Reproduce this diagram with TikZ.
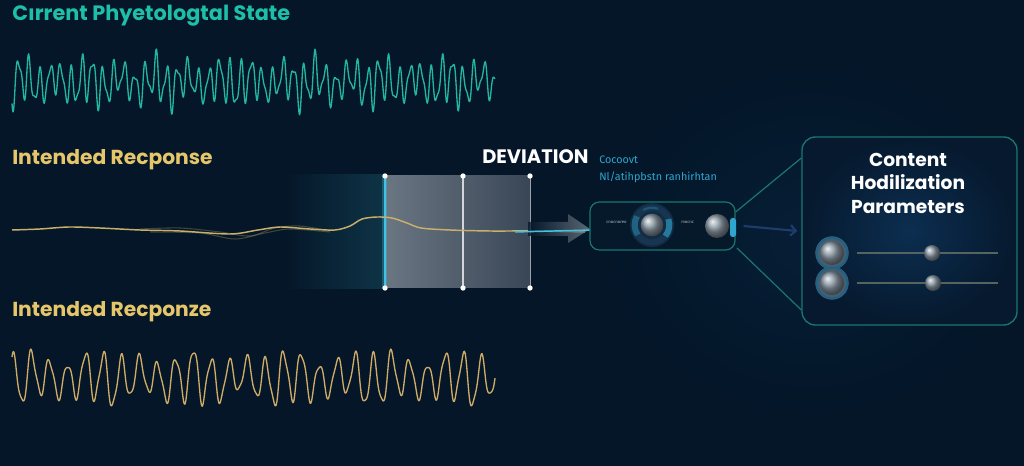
\documentclass[tikz,border=0pt]{standalone}
\usepackage{fontspec}
\setmainfont{Fira Sans}
\newfontfamily\popfont{Poppins}
\usetikzlibrary{arrows.meta,calc}
\definecolor{bg}{HTML}{041628}
\definecolor{tealc}{HTML}{1EBFA8}
\definecolor{tealw}{HTML}{22B5A0}
\definecolor{yelc}{HTML}{E6C66A}
\definecolor{yelw}{HTML}{CFAC66}
\definecolor{midl}{HTML}{C8B06C}
\definecolor{cyanc}{HTML}{3EC4E6}
\definecolor{smallc}{HTML}{2EA6CE}
\definecolor{bordc}{HTML}{1C7670}
\definecolor{panelin}{HTML}{0C2E50}
\definecolor{panelout}{HTML}{06192E}
\definecolor{boxfill}{HTML}{05192B}
\definecolor{glowc}{HTML}{0E3446}
\definecolor{rectl}{HTML}{6A7682}
\definecolor{rectr}{HTML}{394656}
\definecolor{ballc}{HTML}{8C9AA6}
\definecolor{ringc}{HTML}{173550}
\definecolor{trackc}{HTML}{56645F}
\definecolor{darkarrow}{HTML}{1C3C6C}
\begin{document}
\begin{tikzpicture}[x=0.75pt,y=-0.75pt,
  lbl/.style={anchor=west, inner sep=0pt, font=\popfont\bfseries\fontsize{15.2}{17}\selectfont},
  tealwave/.style={draw=tealw, line width=1pt, line join=round},
  yelwave/.style={draw=yelw, line width=1pt, line join=round},
  midline/.style={draw=midl, line width=1.1pt},
  ghost/.style={draw=midl, line width=0.8pt, opacity=0.3},
  dot/.style={fill=white, draw=none},
  conn/.style={draw=bordc, line width=0.9pt},
  ball/.style={shading=ball, ball color=ballc},
  smalltxt/.style={anchor=west, inner sep=0pt, text=smallc, font=\fontsize{8.1}{9}\selectfont},
  tinytxt/.style={anchor=west, inner sep=0pt, text=ballc!70, font=\fontsize{3.2}{4}\selectfont},
  paneltxt/.style={align=center, text=white, inner sep=0pt, font=\popfont\bfseries\fontsize{14}{17.6}\selectfont}
]
\useasboundingbox (0,0) rectangle (1024,466);
\fill[bg] (0,0) rectangle (1024,466);
\shade[inner color=panelin!60!bg, outer color=bg, opacity=0.6] (600,60) rectangle (1024,420);

% ---- top label and wave
\node[lbl, text=tealc, font=\popfont\bfseries\fontsize{15.6}{17}\selectfont] (title) at (12,16) {Cırrent Phyetologtal State};
\draw[tealwave] plot[domain=12:495, samples=900]
  (\x, {82 + (1+0.2*sin(5*\x))*(17*sin(34*mod(\x,10.588235)) + 7*sin(59*mod(\x,6.101695)+40)) + 6*sin(11*\x+20)});

% ---- middle label
\node[lbl, text=yelc] (mid) at (12,160) {Intended Recponse};

% glow and deviation rectangle
\shade[left color=bg, right color=glowc] (282,175) rectangle (385,289);
\node[draw=none, left color=rectl, right color=rectr, minimum width=108.75pt, minimum height=84pt, inner sep=0pt] (dev) at (457.5,232) {};
\draw[white!70!rectl, line width=0.8pt] (463,176) -- (463,288);
\draw[white!50!rectr, line width=0.5pt] (dev.north east) -- (dev.south east);
\draw[cyanc, line width=3.5pt, opacity=0.3] (dev.north west) -- (dev.south west);
\draw[cyanc, line width=1.4pt] (dev.north west) -- (dev.south west);
\foreach \px in {385,463,530} {
  \fill[dot] (\px,176) circle (2pt);
  \fill[dot] (\px,288) circle (2pt);
}

% middle wave line
\draw[ghost] plot[smooth] coordinates {(140,229) (180,228) (220,232) (250,236) (275,228) (300,226) (330,231)};
\draw[ghost] plot[smooth] coordinates {(150,232) (200,233) (235,239) (265,233) (290,229) (330,232)};
\draw[midline] plot[smooth] coordinates {(12,230) (40,229) (69,227) (100,228) (140,230) (180,231) (230,234) (258,230) (280,227) (310,229) (335,230) (350,226) (362,219) (377,217) (392,218) (407,223) (421,228) (450,230) (490,231) (530,231) (585,232)};

% arrow into the box
\shade[left color=bg, right color=rectl!90, opacity=0.75]
  (528,222) -- (568,222) -- (568,214) -- (590,229) -- (568,243) -- (568,236) -- (528,236) -- cycle;
\draw[cyanc, line width=1.1pt] (515,232) -- (592,230);

% DEVIATION and small text
\node[anchor=west, inner sep=0pt, text=white, font=\popfont\bfseries\fontsize{14.6}{16}\selectfont] (devlbl) at (482,157) {DEVIATION};
\node[smalltxt] (sm1) at (599,160) {Cocoovt};
\node[smalltxt] (sm2) at (599,177) {Nl/atihpbstn ranhirhtan};

% box
\node[draw=bordc, line width=0.9pt, fill=boxfill, rounded corners=7pt, minimum width=108.75pt, minimum height=36pt, inner sep=0pt] (box) at (662.5,226) {};
\node[tinytxt] (t1) at (606,222) {cnocnoreo};
\node[tinytxt] (t2) at (681,222) {mocnc};
\fill[ringc!70!bg] (652,225) circle (16.5pt);
\draw[ringc, line width=4.5pt] (652,225) circle (13pt);
\draw[smallc!60!ringc, line width=4.5pt] ($(652,225)+(-40:13pt)$) arc[start angle=-40, end angle=20, radius=13pt];
\draw[smallc!40!ringc, line width=4.5pt] ($(652,225)+(150:13pt)$) arc[start angle=150, end angle=215, radius=13pt];
\draw[smallc!30!ringc, line width=1.5pt] ($(652,225)+(70:13pt)$) arc[start angle=70, end angle=120, radius=13pt];
\shade[ball] (652,225) circle (8.5pt);
\shade[ball] (717,226) circle (9pt);
\fill[smallc, rounded corners=2pt] (730,218) rectangle (736,237);

% connectors to panel
\node[draw=bordc, line width=1pt, inner color=panelin, outer color=panelout, rounded corners=10pt, minimum width=161.25pt, minimum height=141pt, inner sep=0pt] (panel) at (909.5,231) {};
\draw[conn] ([yshift=10.5pt]box.east) -- ([yshift=54.75pt]panel.west);
\draw[conn] ([xshift=1pt,yshift=-16.5pt]box.east) -- ([yshift=-59.25pt]panel.west);
\draw[darkarrow, line width=1.6pt, -{Straight Barb[length=4pt,width=8pt]}] ([xshift=6pt]box.east) -- ([xshift=-3pt]panel.west);

% panel content
\node[paneltxt] (ptxt) at (908,183) {Content\\Hodilization\\Parameters};
\foreach \yy/\tx in {253/932, 283/933} {
  \fill[ringc!60!ballc] (832,\yy) circle (12.5pt);
  \draw[smallc!40!ringc, line width=1.5pt] (832,\yy) circle (11.5pt);
  \shade[ball] (832,\yy) circle (9pt);
  \draw[trackc, line width=1.2pt] (857,\yy) -- (998,\yy);
  \shade[ball] (\tx,\yy) circle (6pt);
}

% ---- bottom label and wave
\node[lbl, text=yelc] (bot) at (12,312) {Intended Recponze};
\draw[yelwave] plot[domain=12:495, samples=900]
  (\x, {378 + (1+0.22*sin(4*\x+30))*(21*sin(20*\x) + 4*sin(43*mod(\x,8.372093)+60)) + 4*sin(7*\x+10)});
\end{tikzpicture}
\end{document}
